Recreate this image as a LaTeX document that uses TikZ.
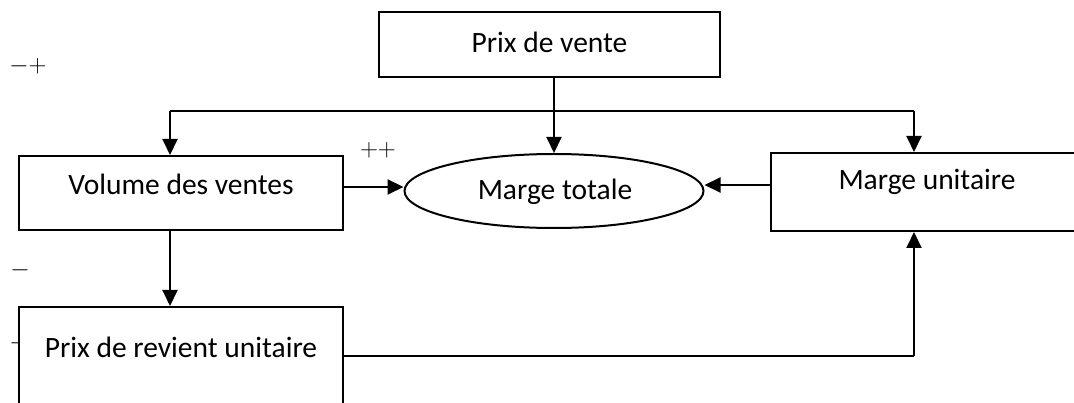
\documentclass[tikz,border=0pt]{standalone}
\usepackage{fontspec}
\setmainfont{Carlito}
\usetikzlibrary{arrows.meta,shapes.geometric}

\tikzset{
  box/.style={draw, line width=2pt, fill=white, rectangle, inner sep=0pt},
  lbl/.style={inner sep=0pt, font=\fontsize{29.5}{34}\selectfont},
  sign/.style={inner sep=0pt, font=\fontsize{24}{28}\selectfont},
  arr/.style={line width=2pt, -{Triangle[width=15pt,length=16pt]}},
  wire/.style={line width=1.3pt}
}

\begin{document}
\begin{tikzpicture}[x=1pt, y=-1pt]
  \useasboundingbox (0,0) rectangle (1074,403);
  \clip (0,0) rectangle (1074,403);

  % loose signs
  \node[sign] (s1) at (28,66) {${-}{+}$};
  \node[sign] (s2) at (378,150) {${+}{+}$};
  \node[sign] (s3) at (20,270) {${-}$};
  \node[sign] (s4) at (19,343) {${-}$};

  % boxes
  \node[box, minimum width=341pt, minimum height=65pt] (pv) at (549.5,44.5) {};
  \node[lbl] (tpv) at (549.5,42) {Prix de vente};

  \node[box, minimum width=324pt, minimum height=74pt] (vv) at (181,193) {};
  \node[lbl] (tvv) at (181,184) {Volume des ventes};

  \node[box, minimum width=312pt, minimum height=78pt] (mu) at (927,192) {};
  \node[lbl] (tmu) at (927,182) {Marge unitaire};

  \node[box, minimum width=324pt, minimum height=120pt] (pr) at (181,367) {};
  \node[lbl] (tpr) at (181,347) {Prix de revient unitaire};

  \node[draw, ellipse, line width=2pt, inner sep=0pt,
        minimum width=299pt, minimum height=74pt] (mt) at (554,191) {};
  \node[lbl] (tmt) at (555,192) {Marge totale};

  % junctions
  \coordinate (jl) at (170,111);
  \coordinate (jr) at (914,111);
  \coordinate (jb) at (914,356);
  \coordinate (ya) at (0,187);
  \coordinate (yb) at (0,185);

  % connectors
  \draw[arr] (mt.north |- pv.south) -- (mt.north);
  \draw[wire] (jl) -- (jr);
  \draw[arr] (jl) -- (jl |- vv.north);
  \draw[arr] (jr) -- (jr |- mu.north);
  \draw[arr] (vv.east |- ya) -- (mt.west |- ya);
  \draw[arr] (mu.west |- yb) -- (mt.east |- yb);
  \draw[arr] (jl |- vv.south) -- (jl |- pr.north);
  \draw[wire] (pr.east |- jb) -- (jb);
  \draw[arr] (jb) -- (jb |- mu.south);
\end{tikzpicture}
\end{document}
